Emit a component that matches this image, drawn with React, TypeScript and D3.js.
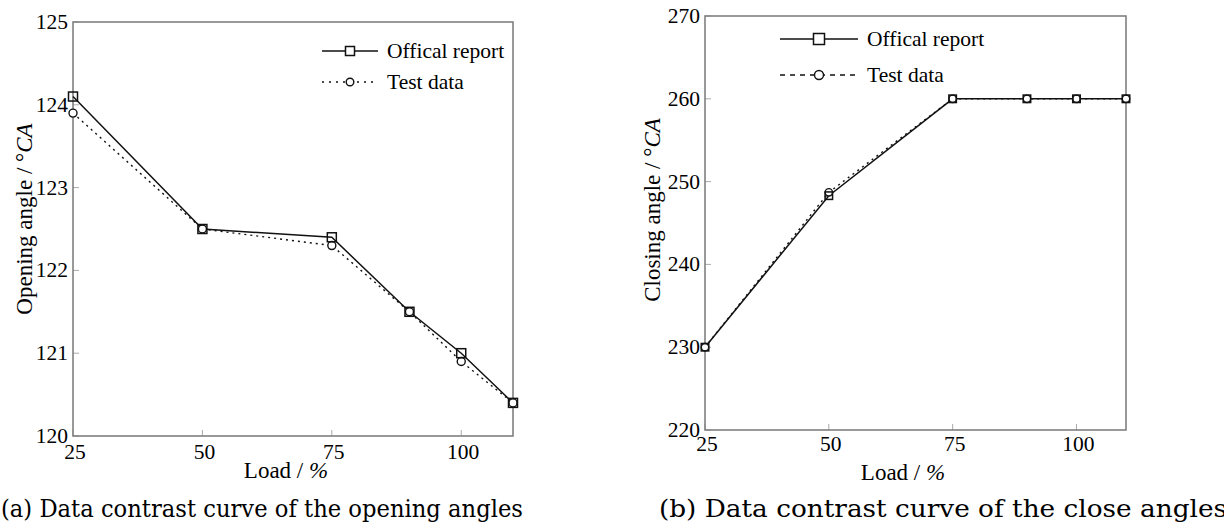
import React from "react";
import * as d3 from "d3";

const loads = [25, 50, 75, 90, 100, 110];
const openOfficial = [124.1, 122.5, 122.4, 121.5, 121.0, 120.4];
const openTest = [123.9, 122.5, 122.3, 121.5, 120.9, 120.4];
const closeOfficial = [230, 248.3, 260, 260, 260, 260];
const closeTest = [230, 248.7, 260, 260, 260, 260];
const xTicks = [25, 50, 75, 100];
const openTicks = [120, 121, 122, 123, 124, 125];
const closeTicks = [220, 230, 240, 250, 260, 270];
const seriesNames = ["Offical report", "Test data"];
const captions = [
  "(a) Data contrast curve of the opening angles",
  "(b) Data contrast curve of the close angles",
];
const yTitles = ["Opening angle / ", "Closing angle / "];

const FONT = "'Liberation Serif', 'Times New Roman', serif";

type PanelProps = {
  x0: number; x1: number; y0: number; y1: number;
  yDomain: [number, number]; yTicks: number[];
  official: number[]; test: number[];
  yTitle: string; yTitleX: number; yTitleY: number;
  legX0: number; legX1: number; legY1: number; legY2: number;
  legSq: number; legR: number; testDashLeg: string;
  sq: number; r: number;
  xLabelY: number; xTitleX: number; xTitleY: number;
  caption: string; capX: number; capLen: number;
};

function Panel(p: PanelProps) {
  const x = d3.scaleLinear().domain([25, 110]).range([p.x0, p.x1]);
  const y = d3.scaleLinear().domain(p.yDomain).range([p.y1, p.y0]);
  const line = d3.line<number>().x((_, i) => x(loads[i])).y((d) => y(d));
  const legMid = (p.legX0 + p.legX1) / 2;
  return (
    <g fontFamily={FONT} fill="#000">
      {/* ticks */}
      {p.yTicks.map((t) => (
        <g key={"y" + t}>
          <line x1={p.x0} x2={p.x0 + 6} y1={y(t)} y2={y(t)} stroke="#aaa" strokeWidth={1} />
          <text x={p.x0 - 5} y={y(t)} dy="0.33em" textAnchor="end" fontSize={21.5}>{t}</text>
        </g>
      ))}
      {xTicks.map((t) => (
        <g key={"x" + t}>
          <line x1={x(t)} x2={x(t)} y1={p.y1} y2={p.y1 - 6} stroke="#aaa" strokeWidth={1} />
          <text x={x(t) + 2} y={p.xLabelY} textAnchor="middle" fontSize={21.5}>{t}</text>
        </g>
      ))}
      {/* frame */}
      <rect x={p.x0} y={p.y0} width={p.x1 - p.x0} height={p.y1 - p.y0} fill="none" stroke="#808080" strokeWidth={1.6} />
      {/* series */}
      <path d={line(p.test) || ""} fill="none" stroke="#111" strokeWidth={1.4} strokeDasharray="2,4" />
      <path d={line(p.official) || ""} fill="none" stroke="#111" strokeWidth={1.5} />
      {p.test.map((v, i) => (
        <circle key={"c" + i} cx={x(loads[i])} cy={y(v)} r={p.r} fill="#fff" stroke="#111" strokeWidth={1.4} />
      ))}
      {p.official.map((v, i) => (
        <rect key={"s" + i} x={x(loads[i]) - p.sq / 2} y={y(v) - p.sq / 2} width={p.sq} height={p.sq} fill="none" stroke="#111" strokeWidth={1.5} />
      ))}
      {/* legend */}
      <line x1={p.legX0} x2={p.legX1} y1={p.legY1} y2={p.legY1} stroke="#111" strokeWidth={1.5} />
      <rect x={legMid - p.legSq / 2} y={p.legY1 - p.legSq / 2} width={p.legSq} height={p.legSq} fill="#fff" stroke="#111" strokeWidth={1.5} />
      <text x={p.legX1 + 9} y={p.legY1} dy="0.33em" fontSize={21.5}>{seriesNames[0]}</text>
      <line x1={p.legX0} x2={p.legX1} y1={p.legY2} y2={p.legY2} stroke="#111" strokeWidth={1.4} strokeDasharray={p.testDashLeg} />
      <circle cx={legMid} cy={p.legY2} r={p.legR} fill="#fff" stroke="#111" strokeWidth={1.4} />
      <text x={p.legX1 + 9} y={p.legY2} dy="0.33em" fontSize={21.5}>{seriesNames[1]}</text>
      {/* axis titles */}
      <text x={p.xTitleX} y={p.xTitleY} textAnchor="middle" fontSize={23}>
        Load / <tspan fontStyle="italic">%</tspan>
      </text>
      <text transform={`translate(${p.yTitleX},${p.yTitleY}) rotate(-90)`} textAnchor="middle" fontSize={23}>
        {p.yTitle}°<tspan fontStyle="italic">CA</tspan>
      </text>
      {/* caption */}
      <text x={p.capX} y={517} fontSize={25} fontFamily="'DejaVu Serif', serif" textLength={p.capLen} lengthAdjust="spacingAndGlyphs">
        {p.caption}
      </text>
    </g>
  );
}

export default function App() {
  return (
    <svg width={1224} height={528} style={{ position: "absolute", left: 0, top: 0, background: "#fff" }}>
      <rect width={1224} height={528} fill="#fff" />
      <Panel
        x0={73} x1={513} y0={22} y1={436}
        yDomain={[120, 125]} yTicks={openTicks}
        official={openOfficial} test={openTest}
        yTitle={yTitles[0]} yTitleX={32} yTitleY={219}
        legX0={322} legX1={378} legY1={51} legY2={82}
        legSq={9} legR={3.8} testDashLeg="2,5"
        sq={9} r={4}
        xLabelY={459} xTitleX={286} xTitleY={478}
        caption={captions[0]} capX={1} capLen={522}
      />
      <Panel
        x0={705} x1={1126} y0={16} y1={430}
        yDomain={[220, 270]} yTicks={closeTicks}
        official={closeOfficial} test={closeTest}
        yTitle={yTitles[1]} yTitleX={660} yTitleY={210}
        legX0={780} legX1={858} legY1={39} legY2={75}
        legSq={11} legR={4.5} testDashLeg="5,5"
        sq={7.5} r={3.7}
        xLabelY={451} xTitleX={903} xTitleY={480}
        caption={captions[1]} capX={659} capLen={568}
      />
    </svg>
  );
}
